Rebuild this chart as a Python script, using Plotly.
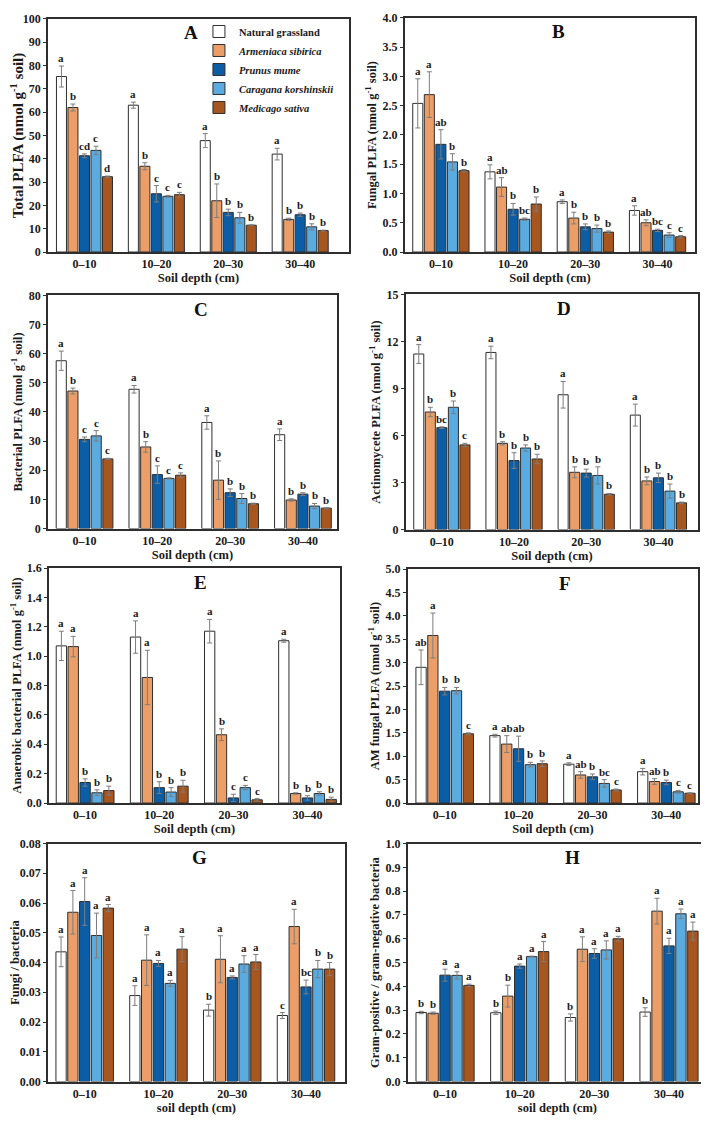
import plotly.graph_objects as go

W, H = 709, 1123
PAGE = 8  # the html body margin pushes the figure 8px right/down

depths = ["0–10", "10–20", "20–30", "30–40"]
treatments = ["Natural grassland", "<i>Armeniaca sibirica</i>", "<i>Prunus mume</i>",
              "<i>Caragana korshinskii</i>", "<i>Medicago sativa</i>"]
colors = ["#ffffff", "#ec9e68", "#0b5ea5", "#5aabe0", "#a8561f"]

# each row = one treatment, columns = depths
total_mean = [[75.3, 63.0, 47.8, 42.0], [62.0, 36.8, 22.0, 14.0], [41.3, 25.0, 17.0, 16.0],
              [43.6, 23.9, 14.7, 10.8], [32.3, 24.6, 11.5, 9.2]]
total_err = [[4.5, 1.3, 3.0, 2.5], [1.5, 1.5, 7.2, 0.5], [0.8, 3.5, 1.4, 0.7],
             [1.8, 0.4, 2.3, 1.3], [0.3, 1.0, 0.2, 0.2]]
total_sig = [["a", "a", "a", "a"], ["b", "b", "b", "b"], ["cd", "c", "b", "b"],
             ["c", "c", "b", "b"], ["d", "c", "b", "b"]]

fungal_mean = [[2.54, 1.37, 0.86, 0.71], [2.69, 1.11, 0.58, 0.50], [1.84, 0.73, 0.43, 0.37],
               [1.54, 0.56, 0.40, 0.29], [1.39, 0.82, 0.34, 0.26]]
fungal_err = [[0.42, 0.12, 0.03, 0.08], [0.39, 0.16, 0.10, 0.05], [0.25, 0.10, 0.05, 0.02],
              [0.14, 0.02, 0.06, 0.04], [0.02, 0.12, 0.02, 0.02]]
fungal_sig = [["a", "a", "a", "a"], ["a", "ab", "b", "ab"], ["ab", "b", "b", "bc"],
              ["b", "bc", "b", "c"], ["b", "b", "b", "c"]]

bact_mean = [[57.6, 47.8, 36.4, 32.2], [47.2, 28.0, 16.6, 9.8], [30.6, 18.5, 12.3, 11.8],
             [31.8, 17.2, 10.3, 7.7], [23.9, 18.3, 8.5, 7.0]]
bact_err = [[3.3, 1.3, 2.3, 2.0], [1.0, 1.8, 6.6, 0.4], [0.8, 3.0, 1.3, 0.5],
            [1.8, 0.2, 1.7, 0.9], [0.2, 0.8, 0.2, 0.2]]
bact_sig = [["a", "a", "a", "a"], ["b", "b", "b", "b"], ["c", "c", "b", "b"],
            ["c", "c", "b", "b"], ["c", "c", "b", "b"]]

actino_mean = [[11.2, 11.3, 8.6, 7.3], [7.5, 5.5, 3.65, 3.1], [6.5, 4.4, 3.6, 3.3],
               [7.8, 5.2, 3.45, 2.45], [5.4, 4.5, 2.25, 1.7]]
actino_err = [[0.6, 0.4, 0.85, 0.7], [0.3, 0.1, 0.35, 0.25], [0.05, 0.5, 0.25, 0.3],
              [0.4, 0.2, 0.55, 0.45], [0.1, 0.3, 0.05, 0.05]]
actino_sig = [["a", "a", "a", "a"], ["b", "b", "b", "b"], ["bc", "b", "b", "b"],
              ["b", "b", "b", "b"], ["c", "b", "b", "b"]]

anaer_mean = [[1.07, 1.13, 1.17, 1.105], [1.065, 0.855, 0.465, 0.065], [0.14, 0.105, 0.035, 0.035],
              [0.07, 0.075, 0.105, 0.065], [0.085, 0.115, 0.022, 0.025]]
anaer_err = [[0.10, 0.11, 0.08, 0.01], [0.07, 0.185, 0.04, 0.005], [0.025, 0.04, 0.025, 0.015],
             [0.02, 0.03, 0.015, 0.012], [0.03, 0.04, 0.008, 0.015]]
anaer_sig = [["a", "a", "a", "a"], ["a", "a", "b", "b"], ["b", "b", "c", "b"],
             ["b", "b", "c", "b"], ["b", "b", "c", "b"]]

amf_mean = [[2.90, 1.44, 0.83, 0.67], [3.58, 1.26, 0.60, 0.46], [2.39, 1.16, 0.56, 0.44],
            [2.40, 0.82, 0.42, 0.24], [1.48, 0.84, 0.28, 0.21]]
amf_err = [[0.37, 0.03, 0.03, 0.07], [0.48, 0.18, 0.07, 0.06], [0.08, 0.27, 0.06, 0.05],
           [0.07, 0.05, 0.08, 0.03], [0.02, 0.06, 0.02, 0.01]]
amf_sig = [["ab", "a", "a", "a"], ["a", "ab", "ab", "ab"], ["b", "ab", "b", "b"],
           ["b", "b", "bc", "c"], ["c", "b", "c", "c"]]

fb_mean = [[0.0436, 0.0289, 0.0240, 0.0222], [0.0569, 0.0408, 0.0411, 0.0521],
           [0.0605, 0.0397, 0.0350, 0.0318], [0.0491, 0.0330, 0.0395, 0.0378],
           [0.0583, 0.0445, 0.0402, 0.0378]]
fb_err = [[0.0050, 0.0033, 0.0020, 0.0010], [0.0073, 0.0085, 0.0079, 0.0058],
          [0.0080, 0.0010, 0.0005, 0.0023], [0.0075, 0.0010, 0.0028, 0.0029],
          [0.0012, 0.0042, 0.0025, 0.0022]]
fb_sig = [["a", "a", "b", "c"], ["a", "a", "a", "a"], ["a", "a", "a", "bc"],
          ["a", "a", "a", "b"], ["a", "a", "a", "b"]]

gpn_mean = [[0.290, 0.289, 0.269, 0.292], [0.287, 0.359, 0.556, 0.716], [0.447, 0.485, 0.538, 0.570],
            [0.446, 0.525, 0.553, 0.705], [0.404, 0.546, 0.600, 0.632]]
gpn_err = [[0.005, 0.007, 0.015, 0.018], [0.005, 0.046, 0.052, 0.054], [0.025, 0.009, 0.020, 0.032],
           [0.015, 0.002, 0.038, 0.020], [0.005, 0.042, 0.010, 0.038]]
gpn_sig = [["b", "b", "b", "b"], ["b", "b", "a", "a"], ["a", "a", "a", "a"],
           ["a", "a", "a", "a"], ["a", "a", "a", "a"]]

SG = "g<sup>-1</sup>"
panels = [
    # label, y title, mean, err, sig, ymax, dtick, fmt, xrange, frame px (l, r, t, b), label pos, x title, ytitle size
    ("A", f"Total PLFA (nmol {SG} soil)", total_mean, total_err, total_sig, 100, 10, "d",
     [-0.51, 3.68], (44, 347, 12, 248), 0.475, "Soil depth (cm)", 15),
    ("B", f"Fungal PLFA (nmol {SG} soil)", fungal_mean, fungal_err, fungal_sig, 4, 0.5, ".1f",
     [-0.50, 3.52], (403, 695, 11, 248), 0.53, "Soil depth (cm)", 12.5),
    ("C", f"Bacterial PLFA (nmol {SG} soil)", bact_mean, bact_err, bact_sig, 80, 10, "d",
     [-0.505, 3.47], (44, 335, 292, 528), 0.53, "Soil depth (cm)", 12.5),
    ("D", f"Actinomycete PLFA (nmol {SG} soil)", actino_mean, actino_err, actino_sig, 15, 3, "d",
     [-0.50, 3.55], (404, 698, 291, 529), 0.54, "Soil depth (cm)", 12.5),
    ("E", f"Anaerobic bacterial PLFA (nmol {SG} soil)", anaer_mean, anaer_err, anaer_sig, 1.6, 0.2, ".1f",
     [-0.49, 3.44], (45, 338, 568, 806), 0.52, "Soil depth (cm)", 12.5),
    ("F", f"AM fungal PLFA (nmol {SG} soil)", amf_mean, amf_err, amf_sig, 5, 0.5, ".1f",
     [-0.50, 3.43], (406, 698, 569, 806), 0.54, "Soil depth (cm)", 12.5),
    ("G", "Fungi / bacteria", fb_mean, fb_err, fb_sig, 0.08, 0.01, ".2f",
     [-0.50, 3.53], (44, 343, 847, 1088), 0.51, "soil depth (cm)", 12.5),
    ("H", "Gram-positive / gram-negative bacteria", gpn_mean, gpn_err, gpn_sig, 1.0, 0.1, ".1f",
     [-0.50, 3.51], (406, 707, 847, 1088), 0.55, "soil depth (cm)", 12.5),
]

SERIF = "Liberation Serif, Times New Roman, serif"
BARGAP = 0.2
GROUPGAP = 0.13
FRAME = "#2e2e2e"
INK = "#1a1a1a"

fig = go.Figure()
annotations = []
layout_axes = {}

for k, (lab, ytitle, mean, err, sig, ymax, dtick, fmt, xr, box, labx, xtitle, yts) in enumerate(panels):
    sfx = "" if k == 0 else str(k + 1)
    xa, ya = "x" + sfx, "y" + sfx
    l, r, t, b = [v - PAGE for v in box]

    for j in range(len(treatments)):
        fig.add_trace(go.Bar(
            x=depths, y=mean[j], name=treatments[j],
            xaxis=xa, yaxis=ya, showlegend=(k == 0), legendgroup=str(j),
            marker=dict(color=colors[j], line=dict(color=FRAME, width=1)),
            error_y=dict(type="data", array=err[j], color="#7d7d7d", thickness=1, width=2.5),
        ))
        # significance letters sit on top of the error bars
        slot = (1 - BARGAP) / len(treatments)
        for i in range(len(depths)):
            annotations.append(dict(
                x=i - (1 - BARGAP) / 2 + slot * (j + 0.5), y=mean[j][i] + err[j][i],
                xref=xa, yref=ya, text=f"<b>{sig[j][i]}</b>", showarrow=False,
                yanchor="bottom", font=dict(family=SERIF, size=11, color=INK),
            ))

    annotations.append(dict(
        x=labx, y=1, xref=xa + " domain", yref=ya + " domain", yshift=-14,
        text=f"<b>{lab}</b>", showarrow=False, yanchor="middle",
        font=dict(family=SERIF, size=19, color="#111"),
    ))

    layout_axes["xaxis" + sfx] = dict(
        domain=[l / W, r / W], anchor=ya, range=xr, type="category",
        showline=True, mirror=True, linecolor=FRAME, linewidth=1.5,
        ticks="", showgrid=False, zeroline=False,
        tickfont=dict(family=SERIF, size=12, color=INK, weight="bold"),
        title=dict(text=f"<b>{xtitle}</b>", standoff=2,
                   font=dict(family=SERIF, size=12.5, color=INK)),
    )
    layout_axes["yaxis" + sfx] = dict(
        domain=[1 - b / H, 1 - t / H], anchor=xa, range=[0, ymax], dtick=dtick, tick0=0,
        tickformat=fmt, showline=True, mirror=True, linecolor=FRAME, linewidth=1.5,
        ticks="outside", ticklen=3, tickwidth=1, tickcolor=FRAME,
        showgrid=False, zeroline=False,
        tickfont=dict(family=SERIF, size=12, color=INK, weight="bold"),
        title=dict(text=f"<b>{ytitle}</b>", standoff=3,
                   font=dict(family=SERIF, size=yts, color=INK)),
    )

fig.update_layout(
    width=W, height=H, margin=dict(l=0, r=0, t=0, b=0),
    paper_bgcolor="white", plot_bgcolor="white",
    barmode="group", bargap=BARGAP, bargroupgap=GROUPGAP,
    font=dict(family=SERIF, color=INK),
    legend=dict(x=(196 - PAGE) / W, y=1 - (10 - PAGE) / H, xanchor="left", yanchor="top",
                bgcolor="rgba(0,0,0,0)",
                font=dict(family=SERIF, size=10.5, color=INK, weight="bold"),
                itemwidth=30, tracegroupgap=0),
    annotations=annotations,
    **layout_axes,
)

fig.write_html("out.html")
